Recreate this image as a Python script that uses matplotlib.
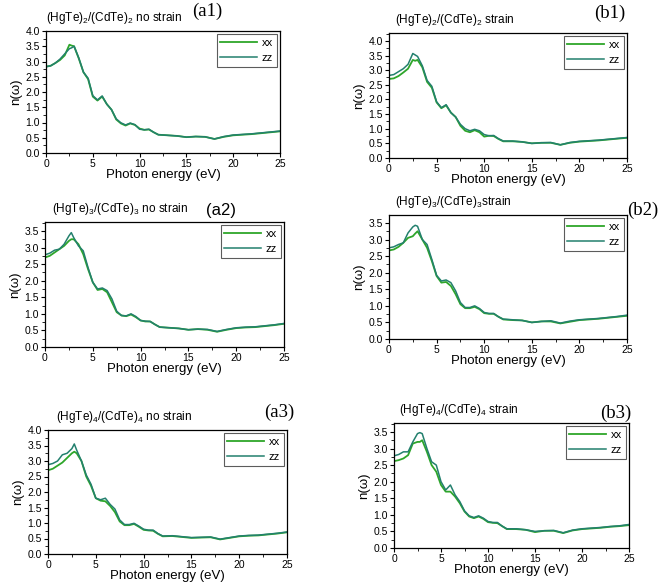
import numpy as np
from matplotlib import pyplot as plt
from matplotlib.ticker import MultipleLocator

plt.rcParams['font.family'] = ['Liberation Sans', 'DejaVu Sans']
plt.rcParams['mathtext.fontset'] = 'custom'
plt.rcParams['mathtext.rm'] = 'Liberation Sans'

energy = [0, 0.5, 1, 1.5, 2, 2.5, 2.75, 3, 3.5, 4, 4.5, 5, 5.5, 6, 6.5, 7, 7.5, 8, 8.5, 9, 9.5,
          10, 10.5, 11, 11.5, 12, 13, 14, 15, 16, 17, 18, 19, 20, 21, 22, 23, 24, 25]

a1_xx = [2.83, 2.86, 2.95, 3.05, 3.2, 3.55, 3.52, 3.5, 3.1, 2.65, 2.42, 1.85, 1.72, 1.85, 1.6, 1.42, 1.1, 0.97, 0.9, 0.97, 0.92,
         0.8, 0.76, 0.77, 0.68, 0.6, 0.58, 0.56, 0.52, 0.54, 0.53, 0.46, 0.53, 0.58, 0.6, 0.62, 0.65, 0.68, 0.71]
a1_zz = [2.83, 2.86, 2.95, 3.08, 3.25, 3.42, 3.45, 3.5, 3.12, 2.65, 2.45, 1.88, 1.74, 1.87, 1.6, 1.42, 1.12, 0.99, 0.92, 0.98, 0.93,
         0.78, 0.76, 0.78, 0.68, 0.6, 0.58, 0.56, 0.52, 0.54, 0.53, 0.46, 0.54, 0.59, 0.61, 0.63, 0.66, 0.69, 0.72]

b1_xx = [2.7, 2.72, 2.8, 2.92, 3.05, 3.35, 3.32, 3.35, 3.1, 2.6, 2.4, 1.9, 1.7, 1.8, 1.55, 1.4, 1.1, 0.93, 0.88, 0.95, 0.88,
         0.73, 0.76, 0.75, 0.65, 0.57, 0.57, 0.55, 0.5, 0.52, 0.52, 0.45, 0.52, 0.56, 0.58, 0.6, 0.63, 0.66, 0.69]
b1_zz = [2.82, 2.85, 2.95, 3.05, 3.2, 3.57, 3.52, 3.47, 3.15, 2.65, 2.45, 1.92, 1.72, 1.82, 1.55, 1.4, 1.15, 1.0, 0.93, 0.98, 0.93,
         0.8, 0.76, 0.77, 0.66, 0.58, 0.58, 0.55, 0.5, 0.52, 0.53, 0.45, 0.53, 0.57, 0.59, 0.61, 0.64, 0.67, 0.7]

a2_xx = [2.7, 2.75, 2.85, 2.95, 3.05, 3.2, 3.25, 3.25, 3.1, 2.8, 2.35, 1.95, 1.72, 1.75, 1.65, 1.35, 1.05, 0.95, 0.93, 0.98, 0.9,
         0.8, 0.77, 0.77, 0.68, 0.6, 0.58, 0.56, 0.52, 0.54, 0.52, 0.46, 0.52, 0.57, 0.59, 0.6, 0.63, 0.66, 0.7]
a2_zz = [2.78, 2.83, 2.92, 2.95, 3.1, 3.35, 3.45, 3.3, 3.05, 2.9, 2.4, 1.95, 1.75, 1.78, 1.7, 1.45, 1.08, 0.95, 0.94, 1.0, 0.92,
         0.8, 0.78, 0.77, 0.68, 0.6, 0.58, 0.56, 0.52, 0.54, 0.53, 0.47, 0.53, 0.58, 0.6, 0.61, 0.64, 0.67, 0.71]

b2_xx = [2.67, 2.7, 2.78, 2.9, 3.05, 3.1, 3.18, 3.25, 3.0, 2.75, 2.35, 1.9, 1.7, 1.72, 1.6, 1.35, 1.05, 0.93, 0.93, 0.97, 0.9,
         0.78, 0.76, 0.76, 0.67, 0.59, 0.57, 0.56, 0.5, 0.53, 0.53, 0.47, 0.52, 0.57, 0.59, 0.61, 0.64, 0.67, 0.7]
b2_zz = [2.75, 2.78, 2.85, 2.9, 3.2, 3.38, 3.43, 3.4, 3.0, 2.85, 2.4, 1.92, 1.75, 1.78, 1.7, 1.45, 1.1, 0.95, 0.95, 1.0, 0.92,
         0.8, 0.77, 0.77, 0.67, 0.6, 0.58, 0.56, 0.5, 0.53, 0.55, 0.48, 0.54, 0.58, 0.6, 0.62, 0.65, 0.68, 0.72]

a3_xx = [2.7, 2.75, 2.85, 2.95, 3.1, 3.25, 3.3, 3.25, 3.0, 2.5, 2.2, 1.8, 1.72, 1.7, 1.55, 1.35, 1.05, 0.93, 0.93, 0.97, 0.88,
         0.78, 0.76, 0.75, 0.65, 0.57, 0.58, 0.55, 0.52, 0.53, 0.54, 0.47, 0.52, 0.57, 0.59, 0.6, 0.63, 0.66, 0.7]
a3_zz = [2.88, 2.92, 3.0, 3.2, 3.25, 3.4, 3.55, 3.35, 3.0, 2.55, 2.25, 1.8, 1.75, 1.8, 1.6, 1.45, 1.1, 0.95, 0.95, 0.99, 0.9,
         0.8, 0.77, 0.77, 0.66, 0.58, 0.59, 0.56, 0.53, 0.54, 0.55, 0.48, 0.53, 0.58, 0.6, 0.61, 0.64, 0.67, 0.71]

b3_xx = [2.62, 2.65, 2.7, 2.8, 3.15, 3.2, 3.2, 3.25, 2.9, 2.5, 2.3, 1.9, 1.7, 1.7, 1.55, 1.35, 1.1, 0.95, 0.9, 0.95, 0.88,
         0.78, 0.76, 0.75, 0.66, 0.57, 0.57, 0.55, 0.48, 0.52, 0.52, 0.45, 0.53, 0.57, 0.59, 0.61, 0.64, 0.66, 0.69]
b3_zz = [2.78, 2.82, 2.9, 2.9, 3.2, 3.45, 3.48, 3.45, 3.0, 2.6, 2.5, 2.0, 1.75, 1.9, 1.6, 1.4, 1.12, 0.97, 0.92, 0.97, 0.9,
         0.8, 0.77, 0.77, 0.66, 0.58, 0.58, 0.55, 0.5, 0.52, 0.53, 0.46, 0.54, 0.58, 0.6, 0.62, 0.65, 0.67, 0.71]

titles = [r'(HgTe)$_2$/(CdTe)$_2$ no strain', r'(HgTe)$_2$/(CdTe)$_2$ strain',
          r'(HgTe)$_3$/(CdTe)$_3$ no strain', r'(HgTe)$_3$/(CdTe)$_3$strain',
          r'(HgTe)$_4$/(CdTe)$_4$ no strain', r'(HgTe)$_4$/(CdTe)$_4$ strain']
tags = ['(a1)', '(b1)', '(a2)', '(b2)', '(a3)', '(b3)']
tag_serif = [True, True, False, True, True, True]

W, H = 661, 586
# axes boxes in pixels: left, right, top, bottom
boxes = [(46, 280, 31, 153), (389, 627, 33, 158),
         (45, 284, 222, 347), (389, 627, 215, 339),
         (48, 287, 430, 554), (394, 629, 423, 548)]
ytops = [4.0, 4.27, 3.77, 3.74, 4.0, 3.77]
tag_pos = [(207, 11), (610, 13), (221, 211), (643, 210), (279, 412), (616, 413)]
title_dx = [0.0, 0.025, 0.03, 0.025, 0.035, 0.02]

series = [(a1_xx, a1_zz), (b1_xx, b1_zz), (a2_xx, a2_zz),
          (b2_xx, b2_zz), (a3_xx, a3_zz), (b3_xx, b3_zz)]

c_xx = '#2ea62a'
c_zz = '#23806e'

fig = plt.figure(figsize=(W / 100, H / 100), dpi=100)

for i in range(6):
    l, r, t, b = boxes[i]
    ax = fig.add_axes([l / W, 1 - b / H, (r - l) / W, (b - t) / H])
    xx, zz = series[i]
    ax.plot(energy, xx, color=c_xx, lw=1.3, label='xx')
    ax.plot(energy, zz, color=c_zz, lw=1.1, label='zz')
    ax.set_xlim(0, 25)
    ax.set_ylim(0, ytops[i])
    ax.xaxis.set_major_locator(MultipleLocator(5))
    ax.xaxis.set_minor_locator(MultipleLocator(2.5))
    ax.yaxis.set_major_locator(MultipleLocator(0.5))
    ax.yaxis.set_minor_locator(MultipleLocator(0.25))
    ax.tick_params(which='major', direction='out', length=3, width=0.8, labelsize=7.5, pad=1.5)
    ax.tick_params(which='minor', direction='out', length=2, width=0.6)
    for s in ax.spines.values():
        s.set_linewidth(0.9)
    ax.set_xlabel('Photon energy (eV)', fontsize=9.5, labelpad=0)
    ax.set_ylabel('n(ω)', fontsize=9.5, labelpad=2)
    ax.text(title_dx[i], 1.04, titles[i], transform=ax.transAxes, fontsize=8.5, ha='left', va='bottom')
    leg = ax.legend(loc='upper right', fontsize=8, frameon=True, fancybox=False,
                    handlelength=3.3, borderaxespad=0.3, labelspacing=0.45, handletextpad=0.4,
                    borderpad=0.35)
    leg.get_frame().set_edgecolor('#333333')
    leg.get_frame().set_linewidth(0.8)
    if tag_serif[i]:
        fam = ['Liberation Serif', 'DejaVu Serif']
        fs = 13.5
    else:
        fam = ['Liberation Sans', 'DejaVu Sans']
        fs = 12
    fig.text(tag_pos[i][0] / W, 1 - tag_pos[i][1] / H, tags[i], fontsize=fs,
             family=fam, ha='center', va='center')

plt.savefig('out.png', dpi=100)
